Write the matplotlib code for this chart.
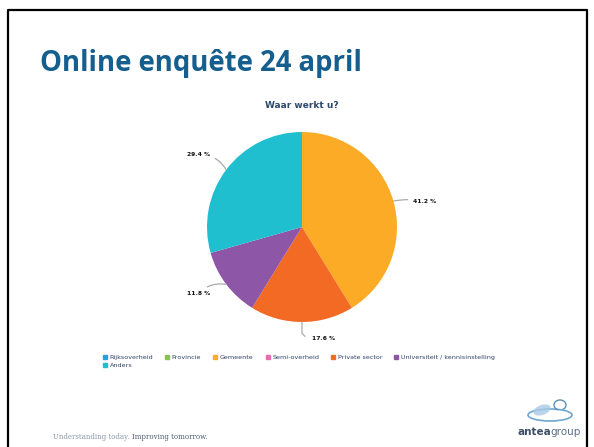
import matplotlib.pyplot as plt
import numpy as np
from matplotlib.patches import Ellipse, Arc
from matplotlib.lines import Line2D

# survey answers, Waar werkt u?
categories = ['Rijksoverheid', 'Provincie', 'Gemeente', 'Semi-overheid',
              'Private sector', 'Universiteit / kennisinstelling', 'Anders']
shares = [0.0, 0.0, 41.2, 0.0, 17.6, 11.8, 29.4]
colors = ['#2a9fd8', '#8cc152', '#fbab25', '#e46fb0', '#f26a24', '#8e56a6', '#1fbfd0']

W, H = 594, 447
fig = plt.figure(figsize=(W / 100, H / 100), dpi=100)
fig.patch.set_facecolor('white')

# slide frame
fig.add_artist(Line2D([8 / W, 8 / W, 587 / W, 587 / W],
                      [0, 1 - 10 / H, 1 - 10 / H, 0], color='black', lw=1.6))

fig.text(40 / W, 1 - 63 / H, 'Online enquête 24 april', fontsize=19.8,
         fontweight='bold', color='#145f8e', family='Open Sans', va='center')
fig.text(302 / W, 1 - 105 / H, 'Waar werkt u?', fontsize=6.5,
         fontweight='bold', color='#2d4a6d', ha='center', va='center')

# pie axes
cx, cy, r = 302, 227, 95
ax = fig.add_axes([(cx - r) / W, (H - cy - r) / H, 2 * r / W, 2 * r / H])
vals = [v for v in shares if v > 0]
cols = [c for v, c in zip(shares, colors) if v > 0]
wedges, _ = ax.pie(vals, colors=cols, startangle=90, counterclock=False,
                   radius=1, wedgeprops=dict(linewidth=0))
ax.set_xlim(-1, 1)
ax.set_ylim(-1, 1)
ax.set_aspect('equal')
ax.axis('off')

# label placement (in data units of the pie)
label_pos = {41.2: (1.17, 0.27), 17.6: (0.10, -1.17), 11.8: (-0.97, -0.70), 29.4: (-0.97, 0.76)}
bend = {41.2: 0.1, 11.8: -0.25, 29.4: -0.3}
lab_kw = dict(fontsize=4.3, fontweight='bold', color='#111111', va='center')
for w, v in zip(wedges, vals):
    ang = np.deg2rad((w.theta1 + w.theta2) / 2)
    x0, y0 = np.cos(ang), np.sin(ang)
    tx, ty = label_pos[v]
    if v == 17.6:
        ax.plot([x0, x0, x0 + 0.03], [y0, y0 - 0.12, y0 - 0.15], color='#aaaaaa', lw=0.9,
                clip_on=False)
        ax.text(tx, ty, f'{v} %', ha='left', **lab_kw)
        continue
    ha = 'left' if tx > 0 else 'right'
    ax.annotate(f'{v} %', xy=(x0, y0), xytext=(tx, ty), ha=ha, annotation_clip=False,
                arrowprops=dict(arrowstyle='-', color='#aaaaaa', lw=0.9, shrinkA=2, shrinkB=0,
                                connectionstyle=f'arc3,rad={bend[v]}'),
                **lab_kw)

# legend
handles = [Line2D([], [], marker='s', ls='', color=c, markersize=3.5) for c in colors]
order = [0, 6, 1, 2, 3, 4, 5]
leg = fig.legend([handles[i] for i in order], [categories[i] for i in order],
                 ncol=6, loc='upper left', bbox_to_anchor=(100 / W, 1 - 352 / H),
                 frameon=False, fontsize=4.6, handlelength=0.8, handletextpad=0.3,
                 columnspacing=1.8, labelspacing=0.45, borderaxespad=0)
for t in leg.get_texts():
    t.set_color('#2f4268')

# footer
t1 = fig.text(53 / W, 1 - 437 / H, 'Understanding today. ', fontsize=5, color='#8a96a6',
              family='DejaVu Serif', va='center')
ax.annotate('Improving tomorrow.', xy=(1, 0.5), xycoords=t1, fontsize=5, color='#4b5a70',
            family='DejaVu Serif', va='center', ha='left', annotation_clip=False)

# logo
t2 = fig.text(517 / W, 1 - 432 / H, 'antea', fontsize=7.5, color='#3c4d66', fontweight='bold',
              va='center')
ax.annotate('group', xy=(1, 0.5), xycoords=t2, fontsize=7.5, color='#5c6f88',
            va='center', ha='left', annotation_clip=False)
lax = fig.add_axes([520 / W, (H - 423) / H, 60 / W, 24 / H])
lax.set_xlim(0, 60)
lax.set_ylim(0, 24)
lax.axis('off')
lax.add_patch(Ellipse((30, 8), 44, 12, fill=False, ec='#6fa7cf', lw=1.2))
lax.add_patch(Ellipse((22, 13), 18, 10, angle=20, fc='#a9cbe6', ec='none', alpha=0.8))
lax.add_patch(Arc((40, 18), 12, 10, theta1=-60, theta2=250, ec='#5d8fb8', lw=1.0))

fig.savefig('out.png', dpi=100)
